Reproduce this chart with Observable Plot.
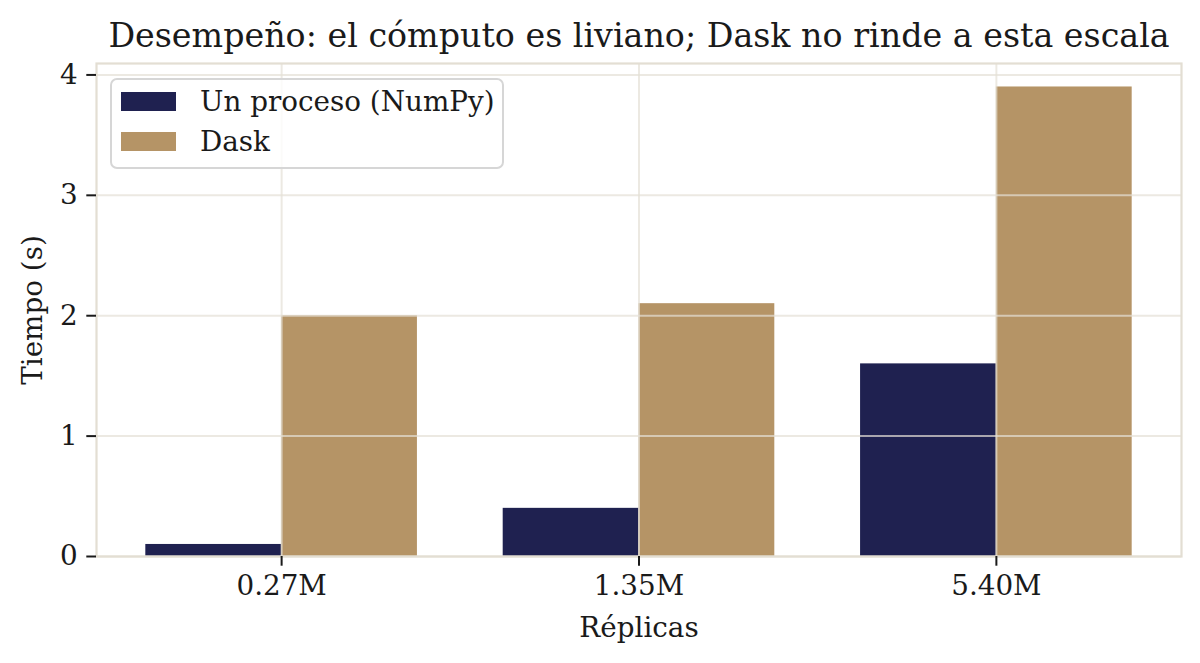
<!DOCTYPE html>
<html><head><meta charset="utf-8">
<script src="https://cdn.jsdelivr.net/npm/d3@7"></script>
<script src="https://cdn.jsdelivr.net/npm/@observablehq/plot@0.6"></script>
<style>
body{margin:0;background:#fff;}
#wrap{position:relative;width:1200px;height:663px;font-family:"DejaVu Serif",serif;}
#wrap svg{display:block;}
.legend{position:absolute;box-sizing:border-box;background:rgba(255,255,255,0.8);border:2px solid #d6d6d6;border-radius:7px;}
.legend .row{position:absolute;left:0;height:40px;}
.legend .sw{position:absolute;width:55px;height:19px;}
.legend .lb{position:absolute;font-size:27.8px;color:#1a1a1a;white-space:nowrap;line-height:1;}
</style></head><body><div id="wrap"></div>
<script>
const categories = ["0.27M", "1.35M", "5.40M"];
const series = ["Un proceso (NumPy)", "Dask"];
const numpyTimes = [0.1, 0.4, 1.6];
const daskTimes = [2.0, 2.1, 3.9];
const seriesColors = ["#1f2150", "#b59466"];
const yTicks = [0, 1, 2, 3, 4];
const title = "Desempeño: el cómputo es liviano; Dask no rinde a esta escala";
const xLabel = "Réplicas";
const yLabel = "Tiempo (s)";

// grouped bar layout (matplotlib-like: width 0.38, offsets left/right of tick)
const barW = 0.38;
const values = [numpyTimes, daskTimes];
const data = [];
categories.forEach((c, i) => {
  series.forEach((s, k) => {
    data.push({cat: c, idx: i, series: s, x1: i + (k - 1) * barW, x2: i + k * barW, t: values[k][i]});
  });
});
const span = (categories.length - 1) + 2 * barW;
const xDomain = [-barW - 0.05 * span, categories.length - 1 + barW + 0.05 * span];
const yMax = d3.max(data, d => d.t) * 1.05;
const catIdx = categories.map((_, i) => i);

const font = '"DejaVu Serif", serif';
const plot = Plot.plot({
  width: 1200, height: 663,
  marginLeft: 96, marginRight: 19, marginTop: 63, marginBottom: 107,
  style: {fontFamily: font, fontSize: "27.8px", color: "#1a1a1a", background: "white"},
  x: {type: "linear", domain: xDomain},
  y: {domain: [0, yMax]},
  color: {domain: series, range: seriesColors},
  marks: [
    Plot.rectY(data, {x1: "x1", x2: "x2", y1: 0, y2: "t", fill: "series"}),
    Plot.gridX({ticks: catIdx, stroke: "#e4dfd6", strokeOpacity: 0.7, strokeWidth: 2}),
    Plot.gridY({ticks: yTicks, stroke: "#e4dfd6", strokeOpacity: 0.7, strokeWidth: 2}),
    Plot.frame({stroke: "#e3ded3", strokeWidth: 2.2}),
    Plot.axisX({ticks: catIdx, tickFormat: i => categories[i], tickSize: 9.7, tickPadding: 9, strokeWidth: 2, label: null, fontSize: 27.8}),
    Plot.axisY({ticks: yTicks, tickFormat: d3.format("d"), tickSize: 9.7, tickPadding: 9, strokeWidth: 2, label: null, fontSize: 27.8}),
    Plot.text([title], {text: d => d, frameAnchor: "top", lineAnchor: "middle", dy: -27, fontSize: 33.3, fill: "#1a1a1a"}),
    Plot.text([xLabel], {text: d => d, frameAnchor: "bottom", lineAnchor: "middle", dy: 72, fontSize: 27.8, fill: "#1a1a1a"}),
    Plot.text([yLabel], {text: d => d, frameAnchor: "left", textAnchor: "middle", lineAnchor: "middle", dx: -63, rotate: -90, fontSize: 27.8, fill: "#1a1a1a"})
  ]
});
const wrap = document.getElementById("wrap");
wrap.appendChild(plot);

// legend overlay (upper left, inside axes)
const lg = d3.select(wrap).append("div").attr("class", "legend")
  .style("left", "110px").style("top", "78px").style("width", "394px").style("height", "91px");
series.forEach((s, k) => {
  const row = lg.append("div").attr("class", "row").style("top", (11 + k * 40) + "px");
  row.append("div").attr("class", "sw").style("left", "9px").style("top", "1px").style("background", seriesColors[k]);
  row.append("div").attr("class", "lb").style("left", "88px").style("top", "-3px").text(s);
});
</script></body></html>
